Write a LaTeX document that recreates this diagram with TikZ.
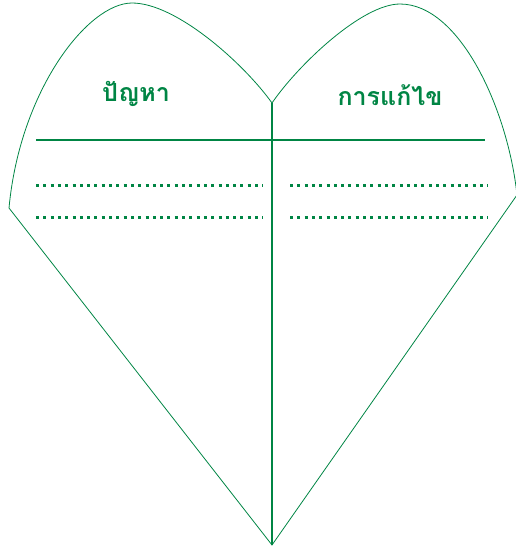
\documentclass[tikz,border=0pt]{standalone}
\usepackage{fontspec}
\usepackage{xcolor}
\usepackage{tikz}
\newfontfamily\thaifont[Script=Thai]{Loma}
\definecolor{heartgreen}{RGB}{0,133,68}

\begin{document}
\begin{tikzpicture}[
x=1pt,y=-1pt,
outline/.style={draw=heartgreen,line width=0.8pt},
rule/.style={draw=heartgreen,line width=1.4pt},
dots/.style={draw=heartgreen,line width=3pt,dash pattern=on 3pt off 4.3pt},
title/.style={text=heartgreen,font=\thaifont\bfseries\fontsize{25}{30}\selectfont,inner sep=0pt}
]
\useasboundingbox (0,0) rectangle (515,547);
\coordinate (left) at (9,208);
\coordinate (dip) at (272,103);
\coordinate (right) at (517,195);
\coordinate (tip) at (272,545);
\draw[outline] (left) .. controls (20,90) and (88,3) .. (132,3)
  .. controls (177,3) and (245,65) .. (dip)
  .. controls (298,65) and (362,4) .. (400,4)
  .. controls (460,4) and (508,110) .. (right)
  -- (tip) -- cycle;
\draw[rule] (dip) -- (tip);
\coordinate (hl) at (36,140);
\coordinate (hr) at (485,140);
\draw[rule] (hl) -- (hr);
\coordinate (a1) at (36,185);
\coordinate (a2) at (263,185);
\coordinate (b1) at (36,217);
\coordinate (b2) at (263,217);
\coordinate (c1) at (290,185);
\coordinate (c2) at (488,185);
\coordinate (d1) at (290,217);
\coordinate (d2) at (488,217);
\draw[dots] (a1) -- (a2);
\draw[dots] (b1) -- (b2);
\draw[dots] (c1) -- (c2);
\draw[dots] (d1) -- (d2);
\node[title] (problem) at (136,94) {ปัญหา};
\node[title] (solution) at (390,95) {การแก้ไข};
\end{tikzpicture}
\end{document}
